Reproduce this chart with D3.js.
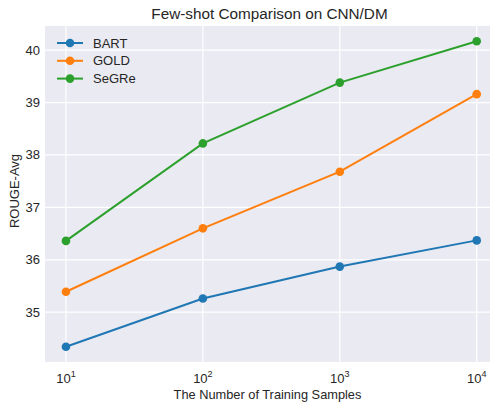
<!DOCTYPE html>
<html>
<head>
<meta charset="utf-8">
<script src="https://cdn.jsdelivr.net/npm/d3@7"></script>
<style>
  body { margin: 0; background: #fff; }
  text { font-family: "Liberation Sans", Arial, sans-serif; fill: #262626; }
</style>
</head>
<body>
<div id="chart"></div>
<script>
// data
const samples = [10, 100, 1000, 10000];
const bart = [34.34, 35.26, 35.87, 36.37];
const gold = [35.39, 36.60, 37.68, 39.16];
const segre = [36.36, 38.22, 39.38, 40.17];
const seriesNames = ["BART", "GOLD", "SeGRe"];
const seriesColors = ["#1f77b4", "#ff7f0e", "#2ca02c"];
const yTicks = [35, 36, 37, 38, 39, 40];
const xTickExps = [1, 2, 3, 4];

const width = 494, height = 403;
const margin = { top: 26, right: 4, bottom: 41, left: 45 };

const svg = d3.select("#chart").append("svg")
  .attr("width", width).attr("height", height);

const innerW = width - margin.left - margin.right;
const innerH = height - margin.top - margin.bottom;

// log x scale, padded a little past 10^1 and 10^4 like the reference
const x = d3.scaleLog()
  .domain([Math.pow(10, 0.847), Math.pow(10, 4.097)])
  .range([0, innerW]);
const y = d3.scaleLinear().domain([34.05, 40.46]).range([innerH, 0]);

const g = svg.append("g")
  .attr("transform", `translate(${margin.left},${margin.top})`);

g.append("rect").attr("width", innerW).attr("height", innerH).attr("fill", "#eaeaf2");

// grid
g.selectAll(".ygrid").data(yTicks).join("line")
  .attr("x1", 0).attr("x2", innerW)
  .attr("y1", d => y(d)).attr("y2", d => y(d))
  .attr("stroke", "#fff").attr("stroke-width", 1.2);
g.selectAll(".xgrid").data(xTickExps).join("line")
  .attr("x1", d => x(Math.pow(10, d))).attr("x2", d => x(Math.pow(10, d)))
  .attr("y1", 0).attr("y2", innerH)
  .attr("stroke", "#fff").attr("stroke-width", 1.2);

// y tick labels
g.selectAll(".ylab").data(yTicks).join("text")
  .attr("x", -5).attr("y", d => y(d)).attr("dy", "0.35em")
  .attr("text-anchor", "end").attr("font-size", 13)
  .text(d => d);

// x tick labels, 10^n
const xl = g.selectAll(".xlab").data(xTickExps).join("text")
  .attr("x", d => x(Math.pow(10, d))).attr("y", innerH + 21)
  .attr("text-anchor", "middle").attr("font-size", 13);
xl.append("tspan").text("10");
xl.append("tspan").attr("dy", -6).attr("font-size", 9).text(d => d);

// axis labels and title
svg.append("text")
  .attr("x", margin.left + innerW / 2).attr("y", height - 4)
  .attr("text-anchor", "middle").attr("font-size", 12.8)
  .text("The Number of Training Samples");
svg.append("text")
  .attr("transform", `translate(19,${margin.top + innerH / 2 - 3}) rotate(-90)`)
  .attr("text-anchor", "middle").attr("font-size", 13)
  .text("ROUGE-Avg");
svg.append("text")
  .attr("x", margin.left + innerW / 2 + 2).attr("y", 19)
  .attr("text-anchor", "middle").attr("font-size", 15.3)
  .text("Few-shot Comparison on CNN/DM");

// lines
const allSeries = [bart, gold, segre];
const line = d3.line().x((d, i) => x(samples[i])).y(d => y(d));

allSeries.forEach((vals, k) => {
  g.append("path").datum(vals)
    .attr("d", line).attr("fill", "none")
    .attr("stroke", seriesColors[k]).attr("stroke-width", 2);
  g.selectAll(".pt" + k).data(vals).join("circle")
    .attr("cx", (d, i) => x(samples[i])).attr("cy", d => y(d))
    .attr("r", 4.3).attr("fill", seriesColors[k]);
});

// legend
const legend = g.append("g").attr("transform", "translate(12,17)");
seriesNames.forEach((name, k) => {
  const row = legend.append("g").attr("transform", `translate(0,${k * 17.8})`);
  row.append("line").attr("x1", 0).attr("x2", 26)
    .attr("stroke", seriesColors[k]).attr("stroke-width", 2);
  row.append("circle").attr("cx", 13).attr("r", 4.3).attr("fill", seriesColors[k]);
  row.append("text").attr("x", 36).attr("dy", "0.35em")
    .attr("font-size", 13).text(name);
});
</script>
</body>
</html>
